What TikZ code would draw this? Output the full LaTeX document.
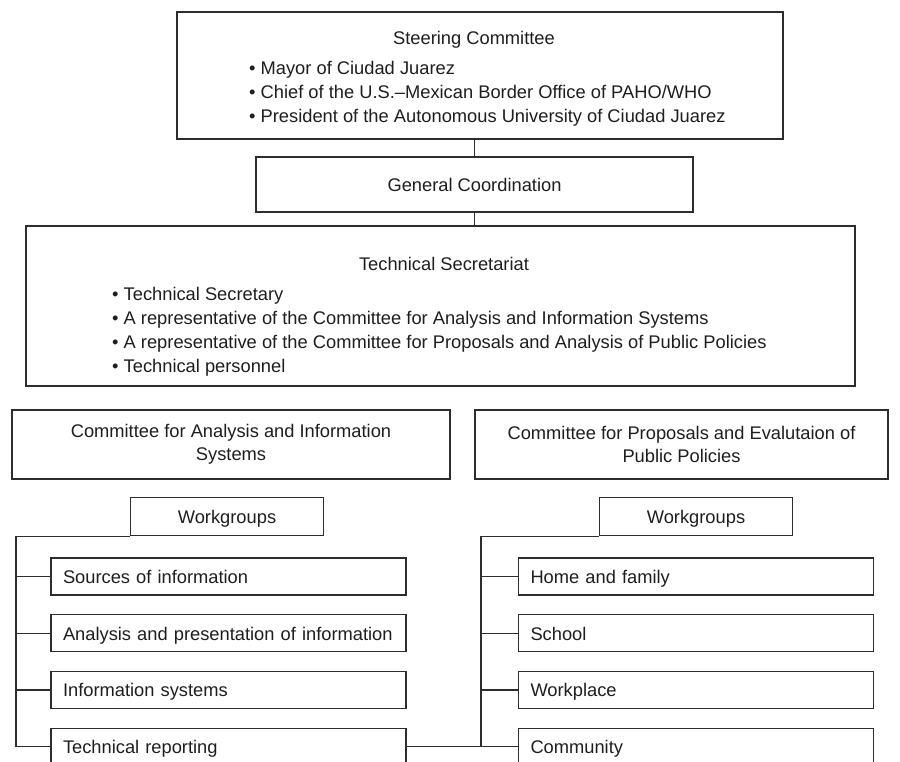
\documentclass[tikz,border=0pt]{standalone}
\usepackage{fontspec}
\setmainfont{Liberation Sans}
\usepackage{tikz}
\usetikzlibrary{positioning}
\definecolor{orgline}{RGB}{45,45,45}
\definecolor{orgtext}{RGB}{30,30,30}
\tikzset{
  orgbox/.style={draw=orgline, line width=1.2pt, inner sep=0pt},
  orgtxt/.style={text=orgtext, font=\fontsize{18.3}{24}\selectfont, inner sep=0pt},
  headbox/.style={orgbox, orgtxt, align=center, font=\fontsize{18.3}{23}\selectfont},
  wgbox/.style={orgbox, orgtxt, minimum width=193pt, minimum height=38pt, text height=13pt, text depth=0pt},
  itembox/.style={orgbox, orgtxt, minimum height=37pt, text width=331pt, inner xsep=12pt,
    text height=14pt, text depth=0pt, align=left},
  link/.style={draw=orgline, line width=1.2pt}
}

\begin{document}
\begin{tikzpicture}[x=1pt, y=-1pt]
  \useasboundingbox (0,0) rectangle (900,761);

  % Steering Committee
  \node[orgbox, minimum width=606pt, minimum height=127pt] (steer) at (480,75.5) {};
  \node[orgtxt, anchor=base] (steerhead) at (474,44) {Steering Committee};
  \node[orgtxt, anchor=north west, align=left] (steerlist) at (249,61) {%
    • Mayor of Ciudad Juarez\\
    • Chief of the U.S.–Mexican Border Office of PAHO/WHO\\
    • President of the Autonomous University of Ciudad Juarez};

  % General Coordination
  \node[headbox, minimum width=437pt, minimum height=55pt] (gencoord) at (474.5,184.5) {General Coordination};

  % Technical Secretariat
  \node[orgbox, minimum width=829pt, minimum height=160pt] (techsec) at (440.5,306) {};
  \node[orgtxt, anchor=base] (techhead) at (444,270) {Technical Secretariat};
  \node[orgtxt, anchor=north west, align=left] (techlist) at (112,287) {%
    • Technical Secretary\\
    • A representative of the Committee for Analysis and Information Systems\\
    • A representative of the Committee for Proposals and Analysis of Public Policies\\
    • Technical personnel};

  \draw[link] (gencoord.north) -- (gencoord.north |- steer.south);
  \draw[link] (gencoord.south) -- (gencoord.south |- techsec.north);

  % Committees
  \node[headbox, minimum width=438pt, minimum height=69pt] (anacomm) at (231,444.5) {Committee for Analysis and Information\\Systems};
  \node[headbox, minimum width=413pt, minimum height=69pt] (propcomm) at (681.5,444.5) {Committee for Proposals and Evalutaion of\\Public Policies};

  % Workgroups (left)
  \node[wgbox] (wgleft) at (227,516.5) {Workgroups};
  \node[itembox] (srcinfo) at (228.5,576.5) {Sources of information};
  \node[itembox, below=18.5pt of srcinfo] (anainfo) {Analysis and presentation of information};
  \node[itembox, below=18.5pt of anainfo] (infosys) {Information systems};
  \node[itembox, below=18.5pt of infosys] (techrep) {Technical reporting};
  \coordinate (lspine) at (16,534);

  % Workgroups (right)
  \node[wgbox] (wgright) at (696,516.5) {Workgroups};
  \node[itembox] (home) at (696,576.5) {Home and family};
  \node[itembox, below=18.5pt of home] (school) {School};
  \node[itembox, below=18.5pt of school] (workplace) {Workplace};
  \node[itembox, below=18.5pt of workplace] (community) {Community};
  \coordinate (rspine) at (481,534);

  % Tree lines
  \draw[link] (wgleft.south west) -- (wgleft.south west -| lspine) |- (techrep.west);
  \foreach \wg in {srcinfo, anainfo, infosys}
    \draw[link] (\wg.west) -- (\wg.west -| lspine);
  \draw[link] (wgright.south west) -- (wgright.south west -| rspine) -- (rspine |- community.west);
  \foreach \wg in {home, school, workplace}
    \draw[link] (\wg.west) -- (\wg.west -| rspine);
  \draw[link] (techrep.east) -- (community.west);
\end{tikzpicture}
\end{document}
